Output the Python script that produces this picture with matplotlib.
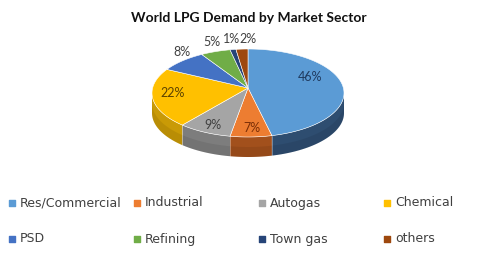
import numpy as np
import matplotlib
matplotlib.use("Agg")
import matplotlib.pyplot as plt
from matplotlib.patches import Polygon

# Data
sectors = ['Res/Commercial', 'Industrial', 'Autogas', 'Chemical',
           'PSD', 'Refining', 'Town gas', 'others']
shares = [46, 7, 9, 22, 8, 5, 1, 2]

top_colors = ['#5B9BD5', '#ED7D31', '#A5A5A5', '#FFC000',
              '#4472C4', '#70AD47', '#264478', '#9E480E']
side_colors = ['#2E4D70', '#A2501C', '#7D7D7D', '#C99A06',
               '#2F5597', '#4E7A31', '#1A2F55', '#6E320A']
label_colors = ['#1F3A5F', '#7A2E06', '#404040', '#5C4300',
                '#404040', '#404040', '#404040', '#404040']

# Geometry in pixels (image coords, y down)
cx, cy = 248, 93      # ellipse centre
vx, vy = 248, 88      # apex of wedges
ra, rb = 96, 44       # semi-axes
depth = 20

fig = plt.figure(figsize=(4.8, 2.59), dpi=100)
ax = fig.add_axes([0, 0, 1, 1])
ax.set_xlim(0, 480)
ax.set_ylim(259, 0)
ax.axis('off')


def arc(s0, s1, n=200, dy=0):
    s = np.radians(np.linspace(s0, s1, n))
    return np.column_stack([cx + ra * np.sin(s), cy - rb * np.cos(s) + dy])


fr = np.array(shares, dtype=float) / sum(shares)
bounds = np.concatenate([[0], np.cumsum(fr) * 360])

# side walls (front half only: 90..270 deg clockwise from top)
for i in range(len(sectors)):
    a0, a1 = max(bounds[i], 90), min(bounds[i + 1], 270)
    if a1 <= a0:
        continue
    top = arc(a0, a1)
    bot = arc(a0, a1, dy=depth)[::-1]
    ax.add_patch(Polygon(np.vstack([top, bot]), closed=True,
                         facecolor=side_colors[i], edgecolor='none', zorder=1))
    # subtle shading toward the bottom
    mid = arc(a0, a1, dy=depth * 0.5)
    ax.add_patch(Polygon(np.vstack([mid, bot]), closed=True,
                         facecolor='black', alpha=0.08, edgecolor='none', zorder=1.1))

# side boundaries
for b in bounds[1:-1]:
    if 90 < b < 270:
        p = arc(b, b, n=1)[0]
        ax.plot([p[0], p[0]], [p[1], p[1] + depth], color='white', lw=0.4, alpha=0.6, zorder=1.2)

# top faces
for i in range(len(sectors)):
    pts = np.vstack([[vx, vy], arc(bounds[i], bounds[i + 1])])
    ax.add_patch(Polygon(pts, closed=True, facecolor=top_colors[i],
                         edgecolor='white', lw=0.4, zorder=2))

# labels
label_r = [0.7, 0.7, 0.7, 0.7, 1.12, 1.12, 1.12, 1.12]
nudge = [(-5, -7), (2, 9), (-5, 10), (-9, 1), (8, 0), (0, 0), (0, 0), (7, 0)]
for i, v in enumerate(shares):
    m = np.radians((bounds[i] + bounds[i + 1]) / 2)
    x = vx + ra * label_r[i] * np.sin(m) + nudge[i][0]
    y = vy - rb * label_r[i] * np.cos(m) + nudge[i][1]
    ax.text(x, y, f'{v}%', ha='center', va='center', fontsize=9,
            family='Lato', color=label_colors[i], zorder=5)

ax.text(249, 18, 'World LPG Demand by Market Sector', ha='center', va='center',
        fontsize=10, fontweight='bold', family='Lato', color='#111111')

# legend
col_x = [12, 137, 262, 387]
row_y = [203, 239]
for i, name in enumerate(sectors):
    x = col_x[i % 4]
    y = row_y[i // 4]
    ax.scatter([x], [y], marker='s', s=14, color=top_colors[i], zorder=5)
    ax.text(x + 8, y, name, ha='left', va='center', fontsize=9, color='#404040')

fig.savefig('out.png', dpi=100)
